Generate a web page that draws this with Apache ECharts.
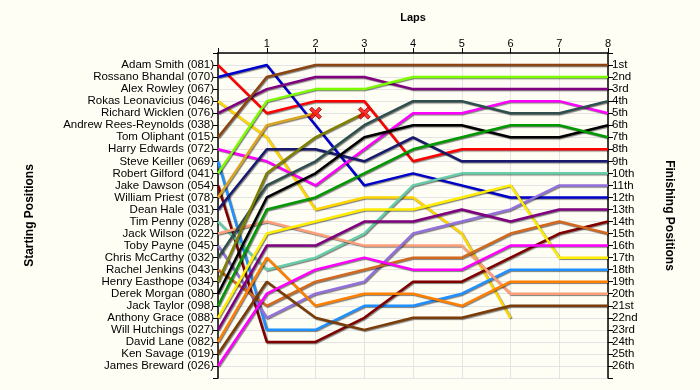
<!DOCTYPE html>
<html>
<head>
<meta charset="utf-8">
<script src="https://cdn.jsdelivr.net/npm/echarts@6/dist/echarts.min.js"></script>
<style>
html,body{margin:0;padding:0;background:#fffef5;}
#chart{width:700px;height:390px;}
</style>
</head>
<body>
<div id="chart"></div>
<script>
// Starting grid order (row 1 = pole)
const startingNames = [
  'Adam Smith (081)','Rossano Bhandal (070)','Alex Rowley (067)','Rokas Leonavicius (046)',
  'Richard Wicklen (076)','Andrew Rees-Reynolds (038)','Tom Oliphant (015)','Harry Edwards (072)',
  'Steve Keiller (069)','Robert Gilford (041)','Jake Dawson (054)','William Priest (078)',
  'Dean Hale (031)','Tim Penny (028)','Jack Wilson (022)','Toby Payne (045)',
  'Chris McCarthy (032)','Rachel Jenkins (043)','Henry Easthope (034)','Derek Morgan (080)',
  'Jack Taylor (098)','Anthony Grace (088)','Will Hutchings (027)','David Lane (082)',
  'Ken Savage (019)','James Breward (026)'
];
const finishLabels = ['1st','2nd','3rd','4th','5th','6th','7th','8th','9th','10th','11th','12th','13th',
  '14th','15th','16th','17th','18th','19th','20th','21st','22nd','23rd','24th','25th','26th'];
const lapLabels = ['1','2','3','4','5','6','7','8'];

// Position at lap 0 (start) .. lap 8
const adamSmith        = [1,5,4,4,9,8,8,8,8];
const rossanoBhandal   = [2,1,6,11,10,11,12,12,12];
const alexRowley       = [];
const rokasLeonavicius = [4,7,13,12,12,15,22];
const richardWicklen   = [5,3,2,2,3,3,3,3,3];
const andrewReesReynolds = [];
const tomOliphant      = [7,2,1,1,1,1,1,1,1];
const harryEdwards     = [8,9,11,8,5,5,4,4,5];
const steveKeiller     = [9,23,23,21,21,20,18,18,18];
const robertGilford    = [10,4,3,3,2,2,2,2,2];
const jakeDawson       = [11,24,24,22,19,19,17,15,14];
const williamPriest    = [12,6,5];
const deanHale         = [13,8,8,9,7,9,9,9,9];
const timPenny         = [14,18,17,15,11,10,10,10,10];
const jackWilson       = [15,14,15,16,16,16,20,20,20];
const tobyPayne        = [16,22,20,19,15,14,13,11,11];
const chrisMcCarthy    = [17,11,9,6,4,4,5,5,4];
const rachelJenkins    = [18,21,19,18,17,17,15,14,15];
const henryEasthope    = [19,10,7,5];
const derekMorgan      = [20,12,10,7,6,6,7,7,6];
const jackTaylor       = [21,13,12,10,8,7,6,6,7];
const anthonyGrace     = [22,15,14,13,13,12,11,17,17];
const willHutchings    = [23,16,16,14,14,13,14,13,13];
const davidLane        = [24,17,21,20,20,21,19,19,19];
const kenSavage        = [25,19,22,23,22,22,21,21,21];
const jamesBreward     = [26,20,18,17,18,18,16,16,16];

// Drivers whose run ended with a crash marker at their last recorded lap
const crashed = ['William Priest (078)','Henry Easthope (034)'];

const racePositions = [adamSmith,rossanoBhandal,alexRowley,rokasLeonavicius,richardWicklen,
  andrewReesReynolds,tomOliphant,harryEdwards,steveKeiller,robertGilford,jakeDawson,williamPriest,
  deanHale,timPenny,jackWilson,tobyPayne,chrisMcCarthy,rachelJenkins,henryEasthope,derekMorgan,
  jackTaylor,anthonyGrace,willHutchings,davidLane,kenSavage,jamesBreward];

const lineColors = ['#ff0000','#0000cd','#888888','#ffd700','#800080','#888888','#8b4513','#ff00ff',
  '#1e90ff','#7cfc00','#800000','#daa520','#191970','#66cdaa','#ffa07a','#9370db','#2f4f4f',
  '#d2691e','#808000','#000000','#009900','#ffee00','#800080','#ff8000','#7a3d0a','#ff00ff'];

const series = [];
racePositions.forEach((arr, i) => {
  if (!arr.length) return;
  series.push({
    type: 'line',
    name: startingNames[i],
    data: arr.map((p, lap) => [lap, p]),
    symbol: 'none',
    silent: true,
    lineStyle: {
      width: 2.5, color: lineColors[i],
      shadowColor: 'rgba(0,0,0,0.5)', shadowBlur: 1, shadowOffsetX: 1, shadowOffsetY: 1
    },
    z: 3
  });
});
const crashPoints = crashed.map(n => {
  const arr = racePositions[startingNames.indexOf(n)];
  return [arr.length - 1, arr[arr.length - 1]];
});
series.push({
  type: 'scatter',
  data: crashPoints,
  symbol: 'path://M0,2 L2,0 L5,3 L8,0 L10,2 L7,5 L10,8 L8,10 L5,7 L2,10 L0,8 L3,5 Z',
  symbolSize: 12,
  itemStyle: { color: '#ff0000', borderColor: '#990000', borderWidth: 1 },
  z: 5
});

const font = 'Arial, "Liberation Sans", sans-serif';
const chart = echarts.init(document.getElementById('chart'), null, {renderer: 'canvas'});
chart.setOption({
  backgroundColor: '#fffef5',
  animation: false,
  grid: { left: 218, right: 92, top: 53, bottom: 12, containLabel: false },
  xAxis: {
    type: 'value', position: 'top', min: 0, max: 8, interval: 1,
    name: 'Laps', nameLocation: 'middle', nameGap: 30,
    nameTextStyle: { fontFamily: font, fontWeight: 'bold', fontSize: 11, color: '#000' },
    axisLine: { lineStyle: { color: '#000', width: 1.5 } },
    axisTick: { inside: false, length: 5, lineStyle: { color: '#000' } },
    axisLabel: { fontFamily: font, fontSize: 11, color: '#000', margin: 4,
      formatter: v => (v >= 1 && v <= 8) ? lapLabels[v - 1] : '' },
    splitLine: { show: true, lineStyle: { color: '#e4e4e4', width: 1 } }
  },
  yAxis: [
    {
      type: 'value', inverse: true, min: 0, max: 27, interval: 1, position: 'left',
      name: 'Starting Positions', nameLocation: 'middle', nameGap: 182, nameRotate: 90,
      nameTextStyle: { fontFamily: font, fontWeight: 'bold', fontSize: 12, color: '#000' },
      axisLine: { show: true, lineStyle: { color: '#000', width: 1.5 } },
      axisTick: { show: true, length: 5, lineStyle: { color: '#000' } },
      axisLabel: { fontFamily: font, fontSize: 11.5, color: '#000', margin: 4,
        formatter: v => (v >= 1 && v <= 26) ? startingNames[v - 1] : '' },
      splitLine: { show: true, lineStyle: { color: '#e4e4e4', width: 1 } }
    },
    {
      type: 'value', inverse: true, min: 0, max: 27, interval: 1, position: 'right',
      name: 'Finishing Positions', nameLocation: 'middle', nameGap: 55, nameRotate: -90,
      nameTextStyle: { fontFamily: font, fontWeight: 'bold', fontSize: 12, color: '#000' },
      axisLine: { show: true, lineStyle: { color: '#000', width: 1.5 } },
      axisTick: { show: true, length: 5, lineStyle: { color: '#000' } },
      axisLabel: { fontFamily: font, fontSize: 11.5, color: '#000', margin: 4,
        formatter: v => (v >= 1 && v <= 26) ? finishLabels[v - 1] : '' },
      splitLine: { show: false }
    }
  ],
  series: series
});
</script>
</body>
</html>
